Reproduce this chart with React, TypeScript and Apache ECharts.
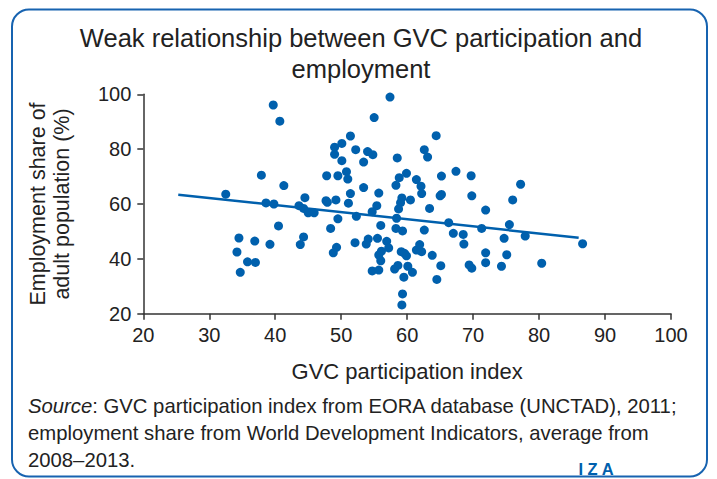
import React, { useEffect, useRef } from "react";
import * as echarts from "echarts";

const gvcIndex = [
  39.7, 40.7, 37.9, 41.3, 32.5, 38.6, 39.8, 44.5, 43.6, 44.3, 45.0, 45.9, 47.8, 47.7, 47.9, 40.5,
  34.5, 36.9, 39.2, 34.2, 44.3, 43.8, 35.8, 37.0, 34.7, 48.4,
  57.4, 55.0, 51.4, 64.4, 50.1, 49.0, 49.0, 52.2, 54.0, 54.8, 62.6, 63.1, 50.1, 53.4, 58.5, 50.8,
  49.5, 51.0, 59.9, 58.8, 61.4, 65.2, 67.4, 69.7, 58.3, 62.1, 53.4, 51.4, 55.7, 62.2, 65.0, 65.2,
  69.8, 49.2, 51.1, 59.2, 60.5, 59.0, 58.7, 55.4, 54.7, 63.4, 71.9, 52.3, 49.5, 58.4, 66.3, 71.3,
  56.0, 58.3, 59.3, 62.6, 67.0, 68.5, 49.3, 48.8, 52.1, 54.1, 53.8, 55.5, 56.9, 57.2, 56.1, 55.7,
  56.0, 54.7, 55.7, 59.1, 59.6, 59.9, 61.9, 61.4, 62.2, 63.8, 60.1, 60.8, 58.6, 58.1, 59.5, 65.1,
  64.5, 59.3, 59.2, 71.9, 71.9, 69.4, 69.8, 68.6,
  77.2, 76.0, 75.5, 74.7, 77.9, 86.6, 75.1, 74.3, 80.4,
];

const employmentShare = [
  96.1, 90.2, 70.5, 66.7, 63.6, 60.4, 60.0, 62.3, 59.4, 58.4, 56.8, 56.8, 70.3, 61.2, 60.6, 52.0,
  47.6, 46.5, 45.3, 42.5, 48.0, 45.2, 38.9, 38.7, 35.1, 51.1,
  99.0, 91.5, 84.8, 84.9, 82.1, 80.7, 78.1, 79.8, 79.1, 78.0, 79.8, 77.1, 75.8, 75.3, 76.8, 71.8,
  70.3, 69.1, 71.2, 69.6, 68.9, 70.2, 71.9, 70.3, 66.8, 66.5, 66.0, 63.8, 64.0, 63.8, 63.0, 63.5,
  63.0, 61.5, 60.3, 62.2, 61.5, 60.5, 58.2, 59.4, 57.2, 58.4, 57.8, 55.5, 54.6, 54.8, 53.2, 51.1,
  52.2, 51.1, 50.2, 50.5, 49.3, 48.9, 44.2, 42.2, 45.9, 47.2, 45.4, 47.5, 46.4, 44.0, 42.8, 41.4,
  39.3, 35.6, 35.9, 42.6, 42.0, 41.1, 45.2, 43.2, 42.6, 41.3, 37.3, 35.1, 37.6, 36.3, 33.3, 37.5,
  32.5, 27.2, 23.2, 42.2, 38.6, 37.8, 36.6, 45.4,
  67.2, 61.5, 52.5, 47.5, 48.3, 45.5, 41.5, 37.3, 38.4,
];

// Fitted line endpoints: [x, y]
const trendStart = [25.3, 63.4];
const trendEnd = [86.0, 47.7];

const xTicks = { min: 20, max: 100, interval: 10 };
const yTicks = { min: 20, max: 100, interval: 20 };

const titleLines = ["Weak relationship between GVC participation and", "employment"];
const sourceLines = [
  "{i|Source}: GVC participation index from EORA database (UNCTAD), 2011;",
  "employment share from World Development Indicators, average from",
  "2008\u20132013.",
];

const BLUE = "#0060ad";
const TEXT = "#222222";
const FONT = "'Liberation Sans', Arial, sans-serif";

export default function App() {
  const ref = useRef<HTMLDivElement>(null);

  useEffect(() => {
    if (!ref.current) return;
    const chart = echarts.init(ref.current, undefined, { renderer: "svg" });
    const points = gvcIndex.map((x, i) => [x, employmentShare[i]]);

    chart.setOption({
      animation: false,
      backgroundColor: "#ffffff",
      textStyle: { fontFamily: FONT },
      grid: { left: 143.3, right: 46, top: 94.3, bottom: 165.3, containLabel: false },
      xAxis: {
        type: "value",
        min: xTicks.min,
        max: xTicks.max,
        interval: xTicks.interval,
        name: "GVC participation index",
        nameLocation: "middle",
        nameGap: 47,
        nameTextStyle: { fontSize: 22, color: TEXT, fontFamily: FONT },
        axisLine: { show: true, onZero: false, lineStyle: { color: "#333", width: 1.5 } },
        axisTick: { show: true, inside: false, length: 6, lineStyle: { color: "#333", width: 1.5 } },
        axisLabel: { fontSize: 20, color: TEXT, margin: 11, fontFamily: FONT },
        splitLine: { show: false },
      },
      yAxis: {
        type: "value",
        min: yTicks.min,
        max: yTicks.max,
        interval: yTicks.interval,
        name: "Employment share of\nadult population (%)",
        nameLocation: "middle",
        nameRotate: 90,
        nameGap: 69,
        nameTextStyle: { fontSize: 21.5, color: TEXT, fontFamily: FONT, lineHeight: 24 },
        axisLine: { show: true, onZero: false, lineStyle: { color: "#333", width: 1.5 } },
        axisTick: { show: true, inside: false, length: 6, lineStyle: { color: "#333", width: 1.5 } },
        axisLabel: { fontSize: 20, color: TEXT, margin: 12, fontFamily: FONT },
        splitLine: { show: false },
      },
      series: [
        {
          type: "line",
          data: [trendStart, trendEnd],
          symbol: "none",
          lineStyle: { color: BLUE, width: 2.5 },
          silent: true,
          z: 1,
        },
        {
          type: "scatter",
          data: points,
          symbolSize: 9,
          itemStyle: { color: BLUE, opacity: 1 },
          z: 2,
        },
      ],
      graphic: [
        {
          type: "rect",
          shape: { x: 12, y: 9.5, width: 695, height: 467, r: 17 },
          style: { fill: "none", stroke: "#1763b0", lineWidth: 2 },
          silent: true,
        },
        ...titleLines.map((t, i) => ({
          type: "text",
          x: 361,
          y: 38 + i * 31,
          style: {
            text: t,
            fontSize: 25.5,
            fill: TEXT,
            fontFamily: FONT,
            align: "center",
            verticalAlign: "middle",
          },
        })),
        ...sourceLines.map((t, i) => ({
          type: "text",
          x: 28,
          y: 406 + i * 27,
          style: {
            text: t,
            fontSize: 20.3,
            fill: TEXT,
            fontFamily: FONT,
            align: "left",
            verticalAlign: "middle",
            rich: { i: { fontStyle: "italic", fontSize: 20.3, fill: TEXT, fontFamily: FONT } },
          },
        })),
        {
          type: "text",
          x: 596,
          y: 469,
          style: {
            text: "I Z A",
            fontSize: 16.5,
            fontWeight: "bold",
            fill: BLUE,
            fontFamily: FONT,
            align: "center",
            verticalAlign: "middle",
          },
        },
      ],
    });

    return () => chart.dispose();
  }, []);

  return (
    <div
      ref={ref}
      style={{ position: "fixed", left: 0, top: 0, width: 717, height: 479 }}
    />
  );
}
